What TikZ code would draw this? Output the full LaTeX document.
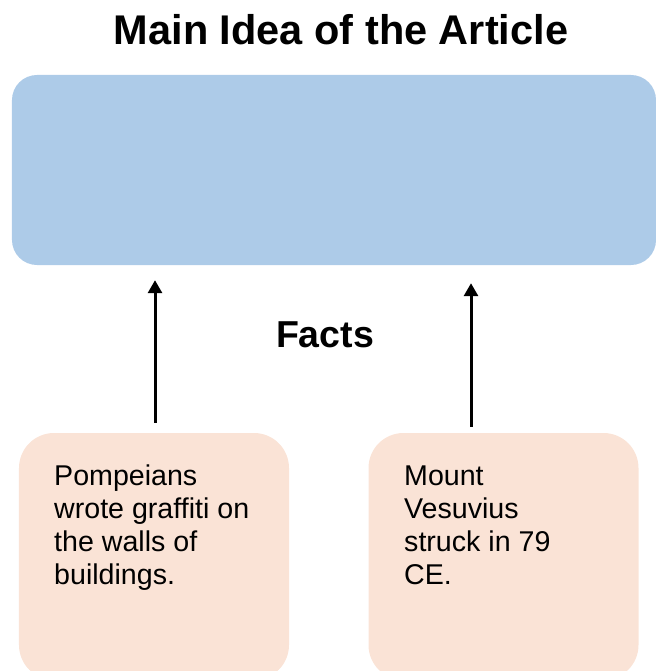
\documentclass[tikz,border=0pt]{standalone}
\usepackage{fontspec}
\setmainfont{Liberation Sans}
\usetikzlibrary{arrows.meta}
\definecolor{mainblue}{RGB}{173,203,232}
\definecolor{factpeach}{RGB}{250,227,214}
\tikzset{
  mainbox/.style={fill=mainblue, draw=none, rounded corners=25bp, minimum width=644bp, minimum height=190bp, inner sep=0pt},
  factbox/.style={fill=factpeach, draw=none, rounded corners=35bp, minimum width=270bp, minimum height=247bp, inner sep=0pt},
  facttext/.style={anchor=base west, align=left, inner sep=0pt, font=\fontsize{28.6bp}{33bp}\selectfont},
  heading/.style={anchor=base, inner sep=0pt, font=\bfseries\fontsize{41.5bp}{48bp}\selectfont},
  subheading/.style={anchor=base, inner sep=0pt, font=\bfseries\fontsize{37.5bp}{44bp}\selectfont},
  arr/.style={line width=3bp, -{Triangle[length=13bp,width=14bp]}}
}
\begin{document}
\begin{tikzpicture}[x=1bp,y=-1bp]
\useasboundingbox (0,0) rectangle (656,671);
\clip (0,0) rectangle (656,671);
\node[heading] (title) at (341,45) {Main Idea of the Article};
\node[mainbox] (main) at (334,170) {};
\node[subheading] (facts) at (325,347) {Facts};
\node[factbox] (f1) at (154,556.5) {};
\node[factbox] (f2) at (503.5,556.5) {};
\node[facttext] (t1) at (54,584) {Pompeians\\wrote graffiti on\\the walls of\\buildings.};
\node[facttext] (t2) at (404,584) {Mount\\Vesuvius\\struck in 79\\CE.};
\draw[arr, shorten <=10bp, shorten >=15bp] (155,0 |- f1.north) -- (155,0 |- main.south);
\draw[arr, shorten <=6bp, shorten >=18bp] (471,0 |- f2.north) -- (471,0 |- main.south);
\end{tikzpicture}
\end{document}
